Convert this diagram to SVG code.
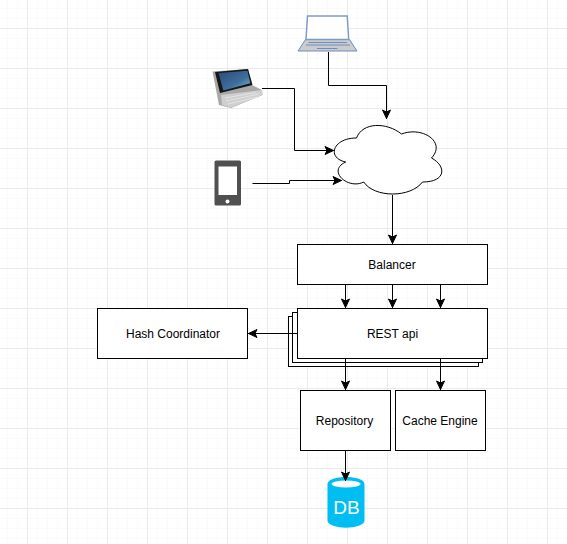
<svg xmlns="http://www.w3.org/2000/svg" width="567" height="544" viewBox="0 0 567 544">
<style>
.box{fill:#fff;stroke:#000;stroke-width:1}
.lbl{font-family:"Liberation Sans",Arial,sans-serif;font-size:12px;fill:#000;text-anchor:middle}
.wire{fill:none;stroke:#000;stroke-width:1}
</style>
<defs>
<pattern id="minor" width="10" height="10" patternUnits="userSpaceOnUse" x="7" y="8"><path d="M0.5 0V10M0 0.5H10" fill="none" stroke="#fafafa" stroke-width="1"/></pattern>
<pattern id="major" width="40" height="40" patternUnits="userSpaceOnUse" x="27" y="28"><path d="M0.5 0V40M0 0.5H40" fill="none" stroke="#ebebeb" stroke-width="1"/></pattern>
<marker id="arr" viewBox="0 0 11 11" refX="10.500" refY="5.500" markerWidth="11" markerHeight="11" markerUnits="userSpaceOnUse" orient="auto"><path d="M1.500 1.500L10 5.500L1.500 9.500L3.500 5.500Z" fill="#000" stroke="#000" stroke-width="1"/></marker>
<linearGradient id="scr" x1="0" y1="0" x2="1" y2="1"><stop offset="0" stop-color="#2b4a78"/><stop offset="0.6" stop-color="#3f6f9c"/><stop offset="1" stop-color="#86bcd8"/></linearGradient>
<filter id="soft" x="-5%" y="-5%" width="110%" height="110%"><feGaussianBlur stdDeviation="0.6"/></filter>
</defs>
<rect width="567" height="544" fill="#fff"/>
<rect width="567" height="544" fill="url(#minor)"/>
<rect width="567" height="544" fill="url(#major)"/>
<g id="laptop">
<path d="M298 51L305.500 39.500H349.500L357 51Z" fill="#ccc" stroke="#6c8ebf"/>
<path d="M306 39.500L307.500 16H347.200L348.700 39.500Z" fill="#fff" stroke="#7f9cc6" stroke-width="1.500"/>
<path d="M308.500 42.500H347M306 45H350M317 48.500H337.500" stroke="#6c8ebf" fill="none"/>
</g>
<g id="tablet" filter="url(#soft)">
<path d="M212.500 71.500L219 105L231 108L262.500 95L262 90L252 85L248 69Z" fill="#a8a8a8"/>
<path d="M221 95L262 90L262.500 95L231 107.500L222 105Z" fill="#cfcfcf"/>
<path d="M215 72L248 69L252.500 85L220 93Z" fill="#141414"/>
<path d="M218.500 73L247.500 70.800L250.300 83.300L223.300 90.500Z" fill="url(#scr)"/>
<path d="M225 98L256 92.500M226 101L259 94M228 104L258 97" stroke="#e4e4e4" fill="none"/>
</g>
<g id="phone">
<rect x="214.500" y="160.500" width="26.500" height="45" rx="1.500" fill="#505050"/>
<rect x="218.500" y="166.500" width="18.500" height="28.500" fill="#fff"/>
<circle cx="227.500" cy="201.500" r="2" fill="#fff"/>
</g>
<g id="cloud">
<path d="M356.500 138C332.500 138 326.500 158 345.700 162C326.500 170.800 348.100 190 363.700 182C374.500 198 410.500 198 422.500 182C446.500 182 446.500 166 431.500 158C446.500 142 422.500 126 401.500 134C386.500 122 362.500 122 356.500 138Z" fill="#fff" stroke="#000"/>
</g>
<g id="balancer"><rect class="box" x="297.500" y="244.500" width="190" height="40"/><text class="lbl" x="392" y="269">Balancer</text></g>
<g id="rest">
<rect class="box" x="288.500" y="316.500" width="190" height="50"/>
<rect class="box" x="292.500" y="312.500" width="190" height="50"/>
<rect class="box" x="297.500" y="308.500" width="190" height="50"/>
<text class="lbl" x="392.500" y="338">REST api</text>
</g>
<g id="hash"><rect class="box" x="97.500" y="308.500" width="150" height="50"/><text class="lbl" x="173" y="338">Hash Coordinator</text></g>
<g id="repo"><rect class="box" x="300.500" y="390.500" width="90" height="60"/><text class="lbl" x="344.500" y="425">Repository</text></g>
<g id="cache"><rect class="box" x="395.500" y="390.500" width="90" height="60"/><text class="lbl" x="440" y="425">Cache Engine</text></g>
<g id="db">
<path d="M327.500 484C327.500 474.500 364.500 474.500 364.500 484V520.500C364.500 530 327.500 530 327.500 520.500Z" fill="#00bef2"/>
<ellipse cx="346" cy="484" rx="14.500" ry="3.500" fill="#fff"/>
<text x="346.500" y="513.500" text-anchor="middle" font-family="'Liberation Sans',Arial,sans-serif" font-size="19px" fill="#fff">DB</text>
</g>
<g id="connectors">
<path class="wire" marker-end="url(#arr)" d="M328.500 52V85.500H386.500V119"/>
<path class="wire" marker-end="url(#arr)" d="M262 88.500H294.500V150.500H334"/>
<path class="wire" marker-end="url(#arr)" d="M252.500 183.500H289.500V180.500H342"/>
<path class="wire" marker-end="url(#arr)" d="M392.500 195V244"/>
<path class="wire" marker-end="url(#arr)" d="M345.500 285V308"/>
<path class="wire" marker-end="url(#arr)" d="M392.500 285V308"/>
<path class="wire" marker-end="url(#arr)" d="M440.500 285V308"/>
<path class="wire" marker-end="url(#arr)" d="M297 333.500H248"/>
<path class="wire" marker-end="url(#arr)" d="M345.500 359V390"/>
<path class="wire" marker-end="url(#arr)" d="M440.500 359V390"/>
<path class="wire" marker-end="url(#arr)" d="M345.500 451V481"/>
</g>
</svg>
